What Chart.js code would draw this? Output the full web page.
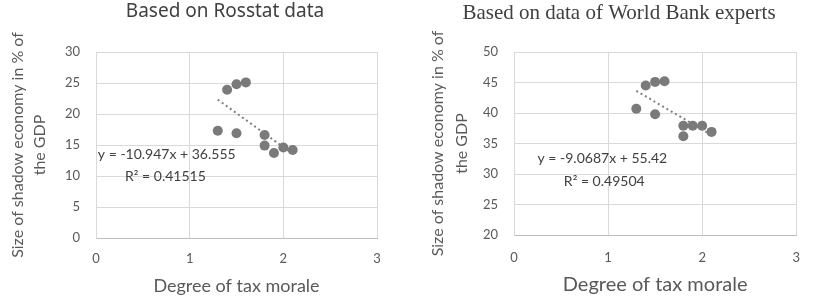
<!DOCTYPE html>
<html>
<head>
<meta charset="utf-8">
<script src="https://cdn.jsdelivr.net/npm/chart.js@4.4.0/dist/chart.umd.min.js"></script>
<style>
  body { margin: 0; background: #fff; width: 815px; height: 298px; overflow: hidden; position: relative; }
  .box { position: absolute; top: 0; height: 298px; }
</style>
</head>
<body>
<div class="box" style="left:0;width:407px"><canvas id="rosstatChart"></canvas></div>
<div class="box" style="left:407px;width:408px"><canvas id="worldBankChart"></canvas></div>
<script>
// Degree of tax morale (x) for both panels
const taxMorale = [1.3, 1.4, 1.5, 1.6, 1.5, 1.8, 1.8, 1.9, 2.0, 2.1];

// Shadow economy, % of GDP
const rosstatShadow = [17.3, 23.9, 24.8, 25.1, 16.9, 16.6, 14.9, 13.7, 14.6, 14.2];
const worldBankShadow = [40.7, 44.5, 45.1, 45.2, 39.8, 37.9, 36.2, 37.9, 37.9, 36.9];

// Linear trend lines (end points)
const trendX = [1.3, 2.1];
const rosstatTrendY = [22.32, 13.57];
const worldBankTrendY = [43.63, 36.38];

// Axis ticks
const xTicks = [0, 1, 2, 3];
const rosstatYTicks = [0, 5, 10, 15, 20, 25, 30];
const worldBankYTicks = [20, 25, 30, 35, 40, 45, 50];

const FONT = 'Lato, "Noto Sans", sans-serif';
const TEXT = '#595959';

// title + equation labels, one plugin per chart
function labelsPlugin(lab) {
    return {
        id: 'panelLabels',
        afterDatasetsDraw(chart) {
            const ctx = chart.ctx;
            const xs = chart.scales.x, ys = chart.scales.y;
            ctx.save();
            ctx.textBaseline = 'middle';
            ctx.fillStyle = '#404040';
            ctx.font = lab.titleFont;
            ctx.textAlign = 'center';
            ctx.fillText(lab.title, lab.titleX, lab.titleY);
            ctx.textAlign = 'left';
            ctx.font = '14px ' + FONT;
            lab.notes.forEach(n => {
                ctx.fillText(n.text, xs.getPixelForValue(n.x), ys.getPixelForValue(n.y));
            });
            ctx.restore();
        }
    };
}

function makeChart(id, shadow, trendY, yTicks, cfg) {
    const ctx = document.getElementById(id).getContext('2d');
    return new Chart(ctx, {
        type: 'scatter',
        data: {
            datasets: [{
                type: 'line',
                data: trendX.map((x, i) => ({ x: x, y: trendY[i] })),
                borderColor: '#7f7f7f',
                borderWidth: 2,
                borderDash: [2, 3],
                pointRadius: 0,
                fill: false
            }, {
                data: taxMorale.map((x, i) => ({ x: x, y: shadow[i] })),
                backgroundColor: '#7a7a7a',
                borderWidth: 0,
                pointRadius: 5
            }]
        },
        options: {
            responsive: true,
            maintainAspectRatio: false,
            animation: false,
            layout: { padding: { top: 52, right: cfg.padRight, bottom: 0, left: 0 } },
            plugins: {
                legend: { display: false },
                tooltip: { enabled: false }
            },
            scales: {
                x: {
                    type: 'linear',
                    min: 0, max: 3,
                    afterBuildTicks: s => { s.ticks = xTicks.map(v => ({ value: v })); },
                    afterFit: s => { s.height = cfg.xHeight; },
                    grid: { color: '#d9d9d9', drawTicks: false },
                    border: { color: '#bfbfbf' },
                    ticks: { color: TEXT, font: { family: FONT, size: 13 }, padding: cfg.xTickPad },
                    title: {
                        display: true, text: 'Degree of tax morale', color: TEXT,
                        font: { family: FONT, size: cfg.xTitleSize }, padding: { top: 0, bottom: 1 }
                    }
                },
                y: {
                    min: yTicks[0], max: yTicks[yTicks.length - 1],
                    afterBuildTicks: s => { s.ticks = yTicks.map(v => ({ value: v })); },
                    afterFit: s => { s.width = cfg.yWidth; },
                    grid: { color: '#d9d9d9', drawTicks: false },
                    border: { color: '#d9d9d9' },
                    ticks: { color: TEXT, font: { family: FONT, size: 13 }, padding: 16 },
                    title: {
                        display: true, text: ['Size of shadow economy in % of', 'the GDP'], color: TEXT,
                        font: { family: FONT, size: 16, lineHeight: cfg.yLine }, padding: { top: cfg.yTitlePad, bottom: 0 }
                    }
                }
            }
        },
        plugins: [labelsPlugin(cfg.labels)]
    });
}

makeChart('rosstatChart', rosstatShadow, rosstatTrendY, rosstatYTicks, {
    padRight: 30, xHeight: 60, yWidth: 96, xTickPad: 13, xTitleSize: 18, yLine: 22 / 16, yTitlePad: 7,
    labels: {
        title: 'Based on Rosstat data', titleX: 225, titleY: 12,
        titleFont: '19px "Noto Sans", sans-serif',
        notes: [
            { text: 'y = -10.947x + 36.555', x: 0.02, y: 13.4 },
            { text: 'R\u00b2 = 0.41515', x: 0.31, y: 10.0 }
        ]
    }
});

makeChart('worldBankChart', worldBankShadow, worldBankTrendY, worldBankYTicks, {
    padRight: 15, xHeight: 63, yWidth: 107, xTickPad: 15, xTitleSize: 20, yLine: 24 / 16, yTitlePad: 19,
    labels: {
        title: 'Based on data of World Bank experts', titleX: 212, titleY: 13,
        titleFont: '21px "Liberation Serif", "Times New Roman", serif',
        notes: [
            { text: 'y = -9.0687x + 55.42', x: 0.25, y: 32.6 },
            { text: 'R\u00b2 = 0.49504', x: 0.53, y: 28.7 }
        ]
    }
});
</script>
</body>
</html>
